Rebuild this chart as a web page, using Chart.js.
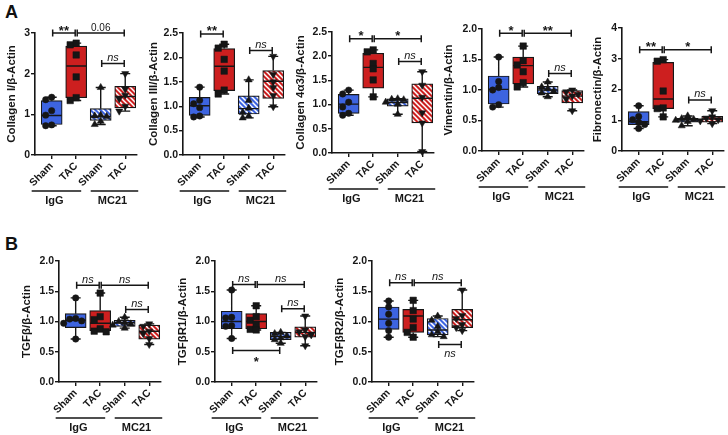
<!DOCTYPE html>
<html>
<head>
<meta charset="utf-8">
<script src="https://cdn.jsdelivr.net/npm/chart.js@4.4.0/dist/chart.umd.min.js"></script>
<style>
  body { margin: 0; background: #fff; width: 728px; height: 435px; position: relative; overflow: hidden;
         font-family: "Liberation Sans", Arial, sans-serif; }
  canvas { position: absolute; }
  .letter { position: absolute; font-weight: bold; font-size: 18px; color: #111; }
</style>
</head>
<body>
<div class="letter" style="left:5px;top:2px">A</div>
<div class="letter" style="left:5px;top:234px">B</div>
<script>
// categories
const groups = ["Sham", "TAC", "Sham", "TAC"];
const treatments = ["IgG", "MC21"];

// each *Points: six animals per group (IgG Sham, IgG TAC, MC21 Sham, MC21 TAC)
// each *Box: [q1, median, q3] per group, whiskers run to min / max of the points
// each *Sig: [from group, to group, y value, label, label below line]

const colIPoints = [[1.42, 1.36, 1.09, 0.98, 0.74, 0.72], [2.75, 2.71, 2.46, 1.92, 1.41, 1.34],
                    [1.66, 0.98, 0.96, 0.95, 0.83, 0.75], [2.0, 1.62, 1.47, 1.38, 1.20, 1.08]];
const colIBox = [[0.75, 0.97, 1.34], [1.41, 2.19, 2.68], [0.85, 0.95, 1.14], [1.16, 1.44, 1.69]];
const colISig = [[0, 1, 3.0, "**"], [1, 3, 3.0, "0.06"], [2, 3, 2.25, "ns"]];

const colIIIPoints = [[1.39, 1.12, 1.05, 0.97, 0.80, 0.78], [2.27, 2.19, 1.96, 1.72, 1.33, 1.25],
                      [1.54, 1.12, 0.96, 0.87, 0.80, 0.76], [2.02, 1.65, 1.50, 1.38, 1.22, 0.99]];
const colIIIBox = [[0.81, 1.01, 1.18], [1.32, 1.82, 2.18], [0.84, 0.95, 1.21], [1.16, 1.51, 1.73]];
const colIIISig = [[0, 1, 2.48, "**"], [2, 3, 2.14, "ns"]];

const col4Points = [[1.30, 1.22, 1.05, 0.95, 0.82, 0.78], [2.13, 2.09, 1.85, 1.74, 1.51, 1.16],
                    [1.12, 1.11, 1.10, 1.05, 1.01, 0.80], [1.68, 1.40, 1.15, 0.83, 0.62, 0.03]];
const col4Box = [[0.82, 1.01, 1.21], [1.34, 1.77, 2.06], [0.97, 1.04, 1.12], [0.62, 1.13, 1.43]];
const col4Sig = [[0, 1, 2.36, "*"], [1, 3, 2.36, "*"], [2, 3, 1.89, "ns"]];

const vimPoints = [[1.54, 1.14, 1.04, 1.00, 0.76, 0.72], [1.72, 1.48, 1.41, 1.30, 1.12, 1.05],
                   [1.13, 1.05, 1.02, 0.98, 0.95, 0.89], [1.00, 0.97, 0.93, 0.90, 0.85, 0.66]];
const vimBox = [[0.77, 1.01, 1.23], [1.10, 1.40, 1.54], [0.94, 1.00, 1.06], [0.79, 0.90, 0.99]];
const vimSig = [[0, 1, 1.93, "*"], [1, 3, 1.93, "**"], [2, 3, 1.27, "ns"]];

const fibPoints = [[1.47, 1.12, 1.02, 0.93, 0.86, 0.73], [2.97, 2.92, 1.95, 1.40, 1.38, 1.11],
                   [1.14, 1.05, 1.03, 1.00, 0.96, 0.82], [1.31, 1.11, 1.07, 1.02, 0.98, 0.89]];
const fibBox = [[0.86, 0.95, 1.28], [1.38, 1.69, 2.88], [0.94, 1.02, 1.06], [0.94, 1.04, 1.13]];
const fibSig = [[0, 1, 3.29, "**"], [1, 3, 3.29, "*"], [2, 3, 1.66, "ns"]];

const tgfPoints = [[1.39, 1.05, 1.04, 1.01, 0.97, 0.71], [1.47, 1.08, 1.03, 0.88, 0.84, 0.83],
                   [1.07, 1.00, 0.98, 0.96, 0.94, 0.89], [0.96, 0.92, 0.84, 0.80, 0.72, 0.62]];
const tgfBox = [[0.90, 1.02, 1.13], [0.85, 0.97, 1.18], [0.92, 0.98, 1.02], [0.71, 0.84, 0.94]];
const tgfSig = [[0, 1, 1.60, "ns"], [1, 3, 1.60, "ns"], [2, 3, 1.20, "ns"]];

const tgfR1Points = [[1.52, 1.07, 1.06, 0.93, 0.92, 0.72], [1.26, 1.08, 1.02, 0.95, 0.87, 0.86],
                     [0.82, 0.80, 0.76, 0.73, 0.70, 0.64], [1.09, 0.86, 0.83, 0.78, 0.75, 0.60]];
const tgfR1Box = [[0.88, 1.00, 1.17], [0.88, 1.00, 1.13], [0.70, 0.75, 0.82], [0.74, 0.82, 0.91]];
const tgfR1Sig = [[0, 1, 1.61, "ns"], [1, 3, 1.61, "ns"], [2, 3, 1.21, "ns"], [0, 2, 0.52, "*", true]];

const tgfR2Points = [[1.34, 1.24, 1.12, 0.97, 0.85, 0.74], [1.35, 1.18, 1.04, 0.90, 0.82, 0.74],
                     [1.09, 1.02, 0.92, 0.83, 0.78, 0.75], [1.52, 1.10, 1.05, 0.95, 0.90, 0.85]];
const tgfR2Box = [[0.87, 1.04, 1.24], [0.82, 1.09, 1.20], [0.78, 0.86, 1.05], [0.90, 1.03, 1.20]];
const tgfR2Sig = [[0, 1, 1.64, "ns"], [1, 3, 1.64, "ns"], [2, 3, 0.62, "ns", true]];

const ink = "#161616";
const blue = "#3d64e0";
const red = "#cd1f1f";
const font = '"Liberation Sans", Arial, sans-serif';

function hatch(color) {
  const c = document.createElement("canvas");
  c.width = 5; c.height = 5;
  const g = c.getContext("2d");
  g.fillStyle = color;
  g.fillRect(0, 0, 5, 5);
  g.strokeStyle = "#fff";
  g.lineWidth = 1.5;
  g.beginPath();
  g.moveTo(-1, -1); g.lineTo(6, 6);
  g.moveTo(-3, 2); g.lineTo(3, 8);
  g.moveTo(2, -3); g.lineTo(8, 3);
  g.stroke();
  return g.createPattern(c, "repeat");
}
const boxFills = [blue, red, hatch(blue), hatch(red)];
const pointStyles = ["circle", "rect", "triangle", "triangle"];
const pointSizes = [3.2, 4.6, 4.1, 4.1];
const pointTurns = [0, 0, 0, 180];

const xMin = -0.68, xMax = 3.48, plotW = 102, xH = 58, padTop = 16;

const panels = [
  { title: "Collagen I/β-Actin", pts: colIPoints, box: colIBox, sig: colISig, yMax: 3, step: 1, dec: 0, axisX: 35, topY: 33, zeroY: 155, yW: 30 },
  { title: "Collagen III/β-Actin", pts: colIIIPoints, box: colIIIBox, sig: colIIISig, yMax: 2.5, step: 0.5, dec: 1, axisX: 183, topY: 33, zeroY: 155, yW: 36 },
  { title: "Collagen 4α3/β-Actin", pts: col4Points, box: col4Box, sig: col4Sig, yMax: 2.5, step: 0.5, dec: 1, axisX: 332, topY: 32, zeroY: 153, yW: 38 },
  { title: "Vimentin/β-Actin", pts: vimPoints, box: vimBox, sig: vimSig, yMax: 2, step: 0.5, dec: 1, axisX: 482, topY: 29, zeroY: 151, yW: 40 },
  { title: "Fibronectin/β-Actin", pts: fibPoints, box: fibBox, sig: fibSig, yMax: 4, step: 1, dec: 0, axisX: 622, topY: 28, zeroY: 151, yW: 31 },
  { title: "TGFβ/β-Actin", pts: tgfPoints, box: tgfBox, sig: tgfSig, yMax: 2, step: 0.5, dec: 1, axisX: 59, topY: 261, zeroY: 382, yW: 39 },
  { title: "TGFβR1/β-Actin", pts: tgfR1Points, box: tgfR1Box, sig: tgfR1Sig, yMax: 2, step: 0.5, dec: 1, axisX: 215, topY: 261, zeroY: 382, yW: 39 },
  { title: "TGFβR2/β-Actin", pts: tgfR2Points, box: tgfR2Box, sig: tgfR2Sig, yMax: 2, step: 0.5, dec: 1, axisX: 372, topY: 261, zeroY: 382, yW: 39 },
];

// spread overlapping points sideways, like a column scatter
function spread(vals, pxPerVal, pxPerCat) {
  const gapX = 6, gapY = 5;
  const order = vals.map((v, i) => i).sort((a, b) => vals[b] - vals[a]);
  const offs = new Array(vals.length).fill(0);
  const placed = [];
  const seq = [0, -1, 1, -2, 2];
  order.forEach(i => {
    for (const s of seq) {
      const dx = s * gapX;
      const clash = placed.some(p => Math.abs(p.v - vals[i]) * pxPerVal < gapY && Math.abs(p.dx - dx) < gapX);
      if (!clash) { offs[i] = dx / pxPerCat; placed.push({ v: vals[i], dx }); break; }
    }
  });
  return offs;
}

function line(ctx, x1, y1, x2, y2) {
  ctx.moveTo(x1, y1);
  ctx.lineTo(x2, y2);
}

function boxPlugin(p) {
  return {
    id: "boxes",
    afterDatasetDraw(chart, args) {
      if (args.index !== 0) return;
      const ctx = chart.ctx, xs = chart.scales.x, ys = chart.scales.y;
      ctx.save();
      ctx.strokeStyle = ink;
      ctx.lineWidth = 1.4;
      ctx.beginPath();
      p.pts.forEach((vals, i) => {
        const cx = xs.getPixelForValue(i);
        const [q1, med, q3] = p.box[i];
        const lo = ys.getPixelForValue(Math.min(...vals));
        const hi = ys.getPixelForValue(Math.max(...vals));
        line(ctx, cx, ys.getPixelForValue(q3), cx, hi);
        line(ctx, cx, ys.getPixelForValue(q1), cx, lo);
        line(ctx, cx - 5, hi, cx + 5, hi);
        line(ctx, cx - 5, lo, cx + 5, lo);
        line(ctx, cx - 10, ys.getPixelForValue(med), cx + 10, ys.getPixelForValue(med));
      });
      ctx.stroke();
      ctx.restore();
    },
    afterDraw(chart) {
      const ctx = chart.ctx, xs = chart.scales.x, ys = chart.scales.y;
      ctx.save();
      ctx.strokeStyle = ink;
      ctx.fillStyle = ink;
      ctx.lineWidth = 1.5;
      ctx.textAlign = "center";
      // significance brackets
      p.sig.forEach(([a, b, v, text, below]) => {
        const x1 = xs.getPixelForValue(a) + 1, x2 = xs.getPixelForValue(b) - 1;
        const yy = ys.getPixelForValue(v);
        ctx.beginPath();
        line(ctx, x1, yy, x2, yy);
        line(ctx, x1, yy - 3.5, x1, yy + 3.5);
        line(ctx, x2, yy - 3.5, x2, yy + 3.5);
        ctx.stroke();
        const mid = (x1 + x2) / 2;
        if (text === "ns") ctx.font = "italic 11px " + font;
        else if (text.includes("*")) ctx.font = "bold 13px " + font;
        else ctx.font = "10px " + font;
        ctx.textBaseline = "alphabetic";
        if (below) ctx.fillText(text, mid, yy + (text === "ns" ? 13 : 15));
        else ctx.fillText(text, mid, text.includes("*") ? yy + 1.5 : yy - 2.5);
      });
      // treatment groups under the axis
      const gy = chart.chartArea.bottom + 36;
      const x0 = xs.getPixelForValue(0), x1 = xs.getPixelForValue(1);
      const x2 = xs.getPixelForValue(2), x3 = xs.getPixelForValue(3);
      const spans = [[x0 - 20, x1 + 5], [x2 - 10, x3 + 13]];
      ctx.lineWidth = 1.6;
      ctx.beginPath();
      spans.forEach(([l, r]) => line(ctx, l, gy, r, gy));
      ctx.stroke();
      ctx.font = "bold 11px " + font;
      ctx.textBaseline = "middle";
      spans.forEach(([l, r], i) => ctx.fillText(treatments[i], (l + r) / 2 - 2, gy + 10));
      ctx.restore();
    }
  };
}

panels.forEach(p => {
  const plotH = p.zeroY - p.topY;
  const canvas = document.createElement("canvas");
  canvas.width = p.yW + plotW + 6;
  canvas.height = padTop + plotH + xH;
  canvas.style.left = (p.axisX - p.yW) + "px";
  canvas.style.top = (p.topY - padTop) + "px";
  document.body.appendChild(canvas);

  const pxPerVal = plotH / p.yMax;
  const pxPerCat = plotW / (xMax - xMin);

  const datasets = [{
    type: "bar",
    data: p.box.map((b, i) => ({ x: i, y: [b[0], b[2]] })),
    backgroundColor: boxFills,
    borderColor: ink,
    borderWidth: 1.2,
    borderSkipped: false,
    barThickness: 21,
    grouped: false,
    order: 2
  }];
  p.pts.forEach((vals, g) => {
    const offs = spread(vals, pxPerVal, pxPerCat);
    datasets.push({
      type: "scatter",
      data: vals.map((v, i) => ({ x: g + offs[i], y: v })),
      pointStyle: pointStyles[g],
      pointRadius: pointSizes[g],
      pointRotation: pointTurns[g],
      backgroundColor: ink,
      borderColor: ink,
      borderWidth: 0.5,
      clip: false,
      order: 1
    });
  });

  new Chart(canvas, {
    type: "bar",
    data: { datasets },
    plugins: [boxPlugin(p)],
    options: {
      responsive: false,
      animation: false,
      events: [],
      layout: { padding: { top: padTop, right: 6, left: 0, bottom: 0 } },
      plugins: { legend: { display: false }, tooltip: { enabled: false } },
      scales: {
        x: {
          type: "linear",
          min: xMin,
          max: xMax,
          offset: false,
          afterFit: s => { s.height = xH; },
          afterBuildTicks: s => { s.ticks = groups.map((g, i) => ({ value: i })); },
          ticks: {
            autoSkip: false, minRotation: 45, maxRotation: 45, padding: 1, color: ink,
            font: { family: font, size: 10.5, weight: "bold" },
            callback: v => groups[v]
          },
          grid: { offset: false, drawOnChartArea: false, tickLength: 4, color: ink, lineWidth: 1.4 },
          border: { color: ink, width: 1.6 }
        },
        y: {
          min: 0,
          max: p.yMax,
          afterFit: s => { s.width = p.yW; },
          ticks: {
            stepSize: p.step, padding: 1, color: ink,
            font: { family: font, size: 10.5, weight: "bold" },
            callback: v => v.toFixed(p.dec)
          },
          grid: { drawOnChartArea: false, tickLength: 4, color: ink, lineWidth: 1.4 },
          border: { color: ink, width: 1.6 },
          title: {
            display: true, text: p.title, color: ink, padding: { top: 0, bottom: 0 },
            font: { family: font, size: 11.5, weight: "bold" }
          }
        }
      }
    }
  });
});
</script>
</body>
</html>
